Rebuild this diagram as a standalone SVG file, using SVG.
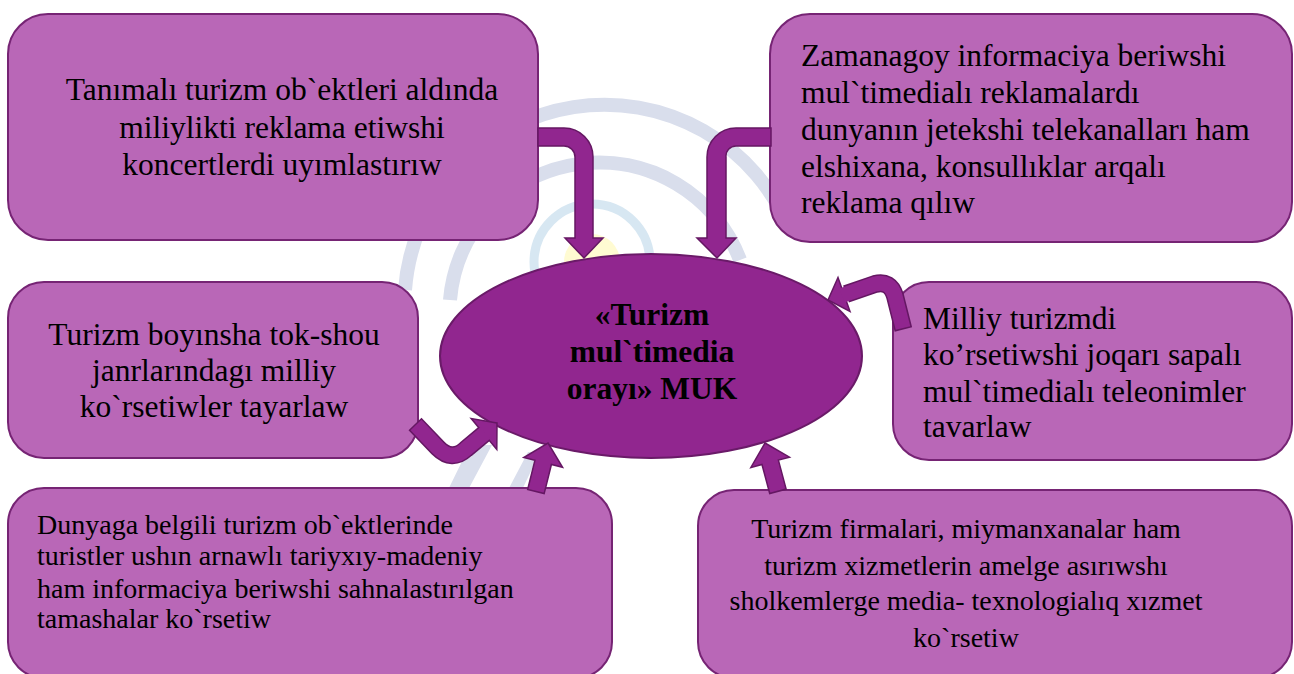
<svg xmlns="http://www.w3.org/2000/svg" width="1294" height="674" viewBox="0 0 1294 674">
<style>
.box{fill:#b967b7;stroke:#762474;stroke-width:2}
.hub{fill:#91268f;stroke:#6a1a68;stroke-width:2}
.arrow{fill:#91268f;stroke:#651763;stroke-width:1.5;stroke-linejoin:miter}
.shaftOut{fill:none;stroke:#651763;stroke-width:18}
.shaftIn{fill:none;stroke:#91268f;stroke-width:15}
.t{font-family:"Liberation Serif","Times New Roman","DejaVu Serif",serif;font-size:31.5px;fill:#000}
.s{font-size:28px}
.b{font-weight:bold}
.wm{fill:none;stroke:#d9deec}
</style>
<rect width="1294" height="674" fill="#ffffff"/>
<g id="watermark">
<circle cx="592" cy="262" r="28" fill="#fffbd2"/>
<circle cx="592" cy="262" r="58" fill="none" stroke="#d7e7f2" stroke-width="9"/>
<path class="wm" stroke-width="14" d="M450,300 A150,150 0 0 1 740,260"/>
<path class="wm" stroke-width="14" d="M405,290 A200,200 0 0 1 790,230"/>
<path fill="#d9deec" d="M448,490 L470,445 L492,445 L468,490 Z M508,490 L528,452 L540,452 L522,490 Z"/>
</g>
<g id="node-hub">
<ellipse class="hub" cx="651" cy="356" rx="211" ry="102"/>
<text class="t b" text-anchor="middle"><tspan x="652" y="325">«Turizm</tspan><tspan x="652" y="362">mul`timedia</tspan><tspan x="652" y="399">orayı» MUK</tspan></text>
</g>
<g id="node-1">
<rect class="box" x="8" y="14" width="530" height="226" rx="40"/>
<text class="t" text-anchor="middle"><tspan x="282" y="100">Tanımalı turizm ob`ektleri aldında</tspan><tspan x="282" y="138">miliylikti reklama etiwshi</tspan><tspan x="282" y="175">koncertlerdi uyımlastırıw</tspan></text>
</g>
<g id="node-2">
<rect class="box" x="770" y="14" width="522" height="228" rx="40"/>
<text class="t"><tspan x="801" y="66">Zamanagoy informaciya beriwshi</tspan><tspan x="801" y="103">mul`timedialı reklamalardı</tspan><tspan x="801" y="140">dunyanın jetekshi telekanalları ham</tspan><tspan x="801" y="177">elshixana, konsullıklar arqalı</tspan><tspan x="801" y="213">reklama qılıw</tspan></text>
</g>
<g id="node-3">
<rect class="box" x="8" y="282" width="410" height="176" rx="36"/>
<text class="t" text-anchor="middle"><tspan x="214" y="345">Turizm boyınsha tok-shou</tspan><tspan x="214" y="381">janrlarındagı milliy</tspan><tspan x="214" y="417">ko`rsetiwler tayarlaw</tspan></text>
</g>
<g id="node-4">
<rect class="box" x="893" y="282" width="399" height="178" rx="36"/>
<text class="t"><tspan x="923" y="329">Milliy turizmdi</tspan><tspan x="923" y="365">ko’rsetiwshi joqarı sapalı</tspan><tspan x="923" y="402">mul`timedialı teleonimler</tspan><tspan x="923" y="437">tavarlaw</tspan></text>
</g>
<g id="node-5">
<rect class="box" x="8" y="488" width="604" height="190" rx="36"/>
<text class="t s"><tspan x="37" y="534">Dunyaga belgili turizm ob`ektlerinde</tspan><tspan x="37" y="565">turistler ushın arnawlı tariyxıy-madeniy</tspan><tspan x="37" y="598">ham informaciya beriwshi sahnalastırılgan</tspan><tspan x="37" y="628">tamashalar ko`rsetiw</tspan></text>
</g>
<g id="node-6">
<rect class="box" x="698" y="490" width="594" height="188" rx="36"/>
<text class="t s" text-anchor="middle"><tspan x="966" y="538">Turizm firmalari, miymanxanalar ham</tspan><tspan x="966" y="575">turizm xizmetlerin amelge asırıwshı</tspan><tspan x="966" y="610">sholkemlerge media- texnologialıq xızmet</tspan><tspan x="966" y="647">ko`rsetiw</tspan></text>
</g>
<g id="connectors">
<path class="arrow" d="M538,128 H564 A29,29 0 0 1 593,157 V238 H603 L584,258 L565,238 H575 V157 A11,11 0 0 0 564,146 H538 Z"/>
<path class="arrow" d="M771,128 H736 A29,29 0 0 0 707,157 V238 H697 L717,258 L736,238 H726 V157 A10,10 0 0 1 736,146 H771 Z"/>
<path class="shaftOut" d="M903.4,329.5 L895,296 Q890,280 875,284 L846,294"/>
<polygon class="arrow" points="828,300 838,277.5 850,311.5"/>
<path class="shaftIn" d="M903,328 L895,296 Q890,280 875,284 L842,295.5"/>
<path class="shaftOut" d="M415,424 L438,448 Q452,462 466,449 L484,434"/>
<polygon class="arrow" points="497,423 471.2,418.6 496.8,449.4"/>
<path class="shaftIn" d="M416,425 L438,448 Q452,462 466,449 L485.5,432.7"/>
<polygon class="arrow" transform="translate(548,443) rotate(14)" points="0,0 20,20 8.5,20 8.5,50 -8.5,50 -8.5,20 -20,20"/>
<polygon class="arrow" transform="translate(765,443) rotate(-15)" points="0,0 20,20 8.5,20 8.5,50 -8.5,50 -8.5,20 -20,20"/>
</g>
</svg>
